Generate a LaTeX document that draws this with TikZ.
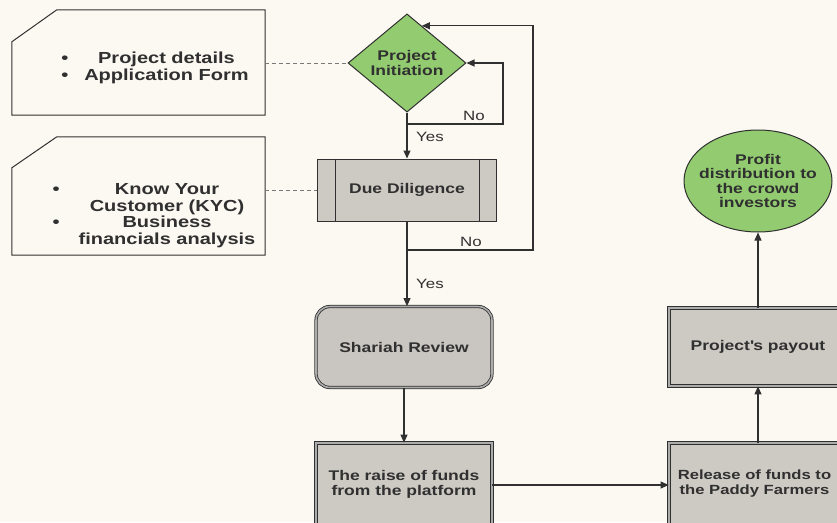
\documentclass[tikz,border=0pt]{standalone}
\usepackage{fontspec}
\setmainfont{Liberation Sans}[FakeStretch=1.25]
\usepackage{xcolor}
\usetikzlibrary{arrows.meta,shapes.geometric,calc}
\definecolor{paper}{HTML}{FCF9F2}
\definecolor{leaf}{HTML}{92CB70}
\definecolor{stone}{HTML}{CDCAC4}
\definecolor{ink}{HTML}{303030}
\tikzset{%
  tipF/.tip={Triangle[length=8pt,width=7pt]},
  %tipG/.tip={Stealth[open]}
}

\begin{document}
\begin{tikzpicture}[x=1pt,y=-1pt,
    font=\bfseries\fontsize{14}{15}\selectfont,
    every node/.append style={text=ink},
    flow/.style={draw=ink, line width=1.1pt, -tipF},
    link/.style={draw=ink!65, line width=0.9pt, dash pattern=on 4pt off 3pt},
    rim/.style={draw=ink, line width=1pt},
    memo/.style={inner sep=0pt, minimum width=253pt},
    gate/.style={diamond, draw=ink, fill=leaf, line width=1pt, minimum width=118pt, minimum height=85pt, inner sep=0pt, align=center},
    task/.style={rectangle, draw=ink, fill=stone, line width=1pt, minimum width=179pt, minimum height=62pt},
    stage/.style={rectangle, draw=ink, double=ink!40, double distance=1.6pt, line width=0.8pt, fill=stone, align=center},
    goal/.style={ellipse, draw=ink, fill=leaf, line width=1pt, minimum width=148pt, minimum height=102pt, inner xsep=-8pt, inner ysep=0pt, align=center, font=\bfseries\fontsize{14}{14.5}\selectfont},
    tag/.style={font=\mdseries\fontsize{13.5}{14}\selectfont}]
    \useasboundingbox (0,0) rectangle (837,522);
    \clip (0,0) rectangle (837,522);
    \fill[paper] (0,0) rectangle (837,522);
    % notes on the left
    \node[memo, minimum height=105pt] (brief) at (138.5,62.5) {};
    \draw[rim] ([xshift=45pt]brief.north west) -- (brief.north east) -- (brief.south east) -- (brief.south west) -- ([yshift=-32pt]brief.north west) -- cycle;
    \node[font=\bfseries\fontsize{16}{17}\selectfont] (brieftxt) at (155,68.5) {\begin{tabular}{@{}l@{\hspace{16pt}}c@{}}\textbullet & Project details\\ \textbullet & Application Form\end{tabular}};
    \node[memo, minimum height=118pt] (audit) at (138.5,196) {};
    \draw[rim] ([xshift=45pt]audit.north west) -- (audit.north east) -- (audit.south east) -- (audit.south west) -- ([yshift=-31pt]audit.north west) -- cycle;
    \node[font=\bfseries\fontsize{16}{16.4}\selectfont] (audittxt) at (154,216) {\begin{tabular}{@{}l@{\hspace{19pt}}c@{}}\textbullet & Know Your\\ & Customer (KYC)\\ \textbullet & Business\\ & financials analysis\end{tabular}};
    % flow
    \node[gate] (start) at (407,63) {Project\\Initiation};
    \node[task] (check) at (407,190) {Due Diligence};
    \draw[rim] ([xshift=18pt]check.north west) -- ([xshift=18pt]check.south west);
    \draw[rim] ([xshift=-18pt]check.north east) -- ([xshift=-18pt]check.south east);
    \node[stage, rounded corners=14pt, minimum width=176pt, minimum height=81pt, fill=stone!92!white!90!gray] (review) at (404,347) {Shariah Review};
    \node[stage, minimum width=176pt, minimum height=82pt] (raise) at (404,484) {The raise of funds\\from the platform};
    \node[stage, minimum width=178pt, minimum height=82pt] (release) at (758,484) {};
    \node[align=center, font=\bfseries\fontsize{13.3}{15}\selectfont] (releasetxt) at (754.5,484) {Release of funds to\\the Paddy Farmers};
    \node[stage, minimum width=178pt, minimum height=78pt] (payout) at (758,347) {Project\textquotesingle s payout};
    \node[goal] (share) at (758,181) {Profit\\distribution to\\the crowd\\investors};
    % dashed links
    \draw[link] (brief.east |- start.west) -- (start.west);
    \draw[link] (audit.east |- check.west) -- (check.west);
    % arrows
    \coordinate (noA) at (407,124);
    \coordinate (turnA) at (503,124);
    \coordinate (noB) at (407,250);
    \coordinate (turnB) at (533,250);
    \coordinate (hit) at ($(start.north)!0.25!(start.east)$);
    \draw[flow] (start) -- (check);
    \draw[flow] (noA) -- (turnA) |- (start.east);
    \draw[flow] (noB) -- (turnB) |- (hit);
    \draw[flow] (check.south) -- (check.south |- review.north);
    \draw[flow] (review) -- (raise);
    \draw[flow] ([yshift=-1pt]raise.east) -- ([yshift=-1pt]release.west);
    \draw[flow] (release.north -| share.south) -- (payout.south -| share.south);
    \draw[flow] (payout.north -| share.south) -- (share.south);
    \node[tag] (yesA) at (430,137) {Yes};
    \node[tag] (noAtag) at (474,116) {No};
    \node[tag] (noBtag) at (471,242) {No};
    \node[tag] (yesB) at (430,284) {Yes};
\end{tikzpicture}
\end{document}
